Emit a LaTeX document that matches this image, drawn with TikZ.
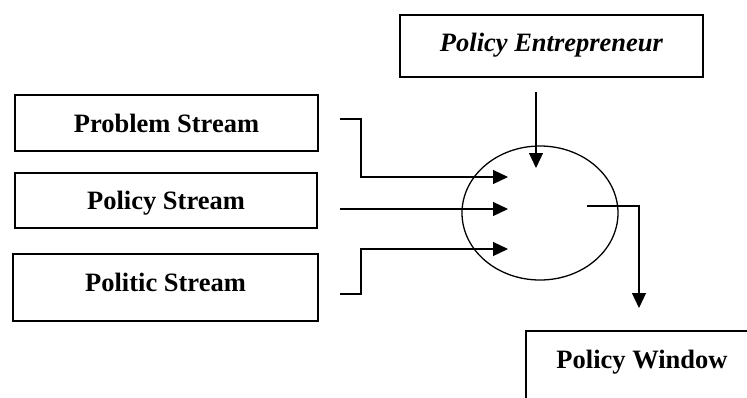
\documentclass[tikz,border=0pt]{standalone}
\usepackage{fontspec}
\setmainfont{Liberation Serif}
\usetikzlibrary{shapes.geometric,arrows.meta}
\begin{document}
\begin{tikzpicture}[x=1pt,y=-1pt,
  streambox/.style={draw,line width=2pt,rectangle,anchor=north west,inner xsep=0pt,inner ysep=0pt,
    font=\fontsize{26.5}{30}\selectfont\bfseries},
  conn/.style={line width=1.2pt},
  arr/.style={line width=1.2pt,-{Triangle[length=15pt,width=14pt]}}]
\useasboundingbox (0,0) rectangle (747,397);
\clip (0,0) rectangle (747,397);
\fill[white] (0,0) rectangle (747,397);
\node[streambox,minimum width=303pt,text height=37pt,text depth=19pt] (problem) at (14,94) {Problem Stream};
\node[streambox,minimum width=302pt,text height=36pt,text depth=19pt] (policy) at (14,172) {Policy Stream};
\node[streambox,minimum width=305pt,text height=37pt,text depth=30pt] (politic) at (12,253) {Politic Stream};
\node[streambox,minimum width=303pt,text height=36pt,text depth=26pt] (entre) at (399,14) {\itshape Policy Entrepreneur};
\node[streambox,minimum width=232pt,text height=37pt,text depth=35pt] (window) at (525,330) {Policy Window};
\node[draw,ellipse,line width=1.3pt,minimum width=156pt,minimum height=134pt,inner sep=0pt] (window0) at (540,213) {};
\coordinate (p1) at (340,119);
\coordinate (p2) at (361,119);
\coordinate (p3) at (361,177);
\coordinate (a1) at (508,177);
\coordinate (q1) at (340,209);
\coordinate (a2) at (508,209);
\coordinate (r1) at (340,294);
\coordinate (r2) at (361,294);
\coordinate (r3) at (361,249);
\coordinate (a3) at (508,249);
\coordinate (e1) at (536,92);
\coordinate (a4) at (536,168);
\coordinate (o1) at (587,206);
\coordinate (o2) at (639,206);
\coordinate (a5) at (639,308);
\draw[arr] (p1) -- (p2) -- (p3) -- (a1);
\draw[arr] (q1) -- (a2);
\draw[arr] (r1) -- (r2) -- (r3) -- (a3);
\draw[arr] (e1) -- (a4);
\draw[arr] (o1) -- (o2) -- (a5);
\end{tikzpicture}
\end{document}
